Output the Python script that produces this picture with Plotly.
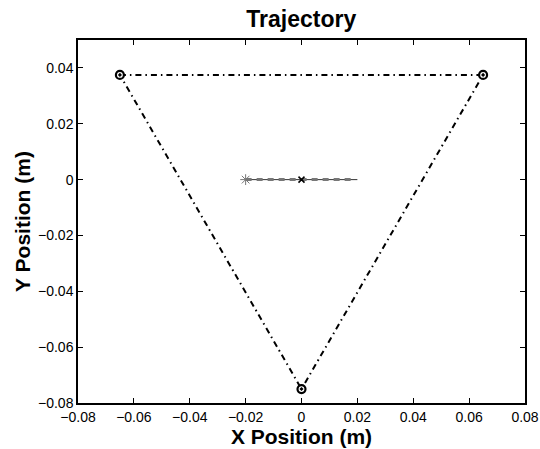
import plotly.graph_objects as go

# Triangle vertices (closed path)
tri_x = [-0.065, 0.065, 0.0, -0.065]
tri_y = [0.0375, 0.0375, -0.075, 0.0375]
vert_x = [-0.065, 0.065, 0.0]
vert_y = [0.0375, 0.0375, -0.075]

# Center path
ref_x = [-0.02, 0.02]
ref_y = [0.0, 0.0]
act_x = [-0.02, 0.018]
act_y = [0.0, 0.0]
start_x = [-0.02]
start_y = [0.0]
mid_x = [0.0]
mid_y = [0.0]

ticks = [-0.08, -0.06, -0.04, -0.02, 0, 0.02, 0.04, 0.06, 0.08]
tick_text = ["\u22120.08", "\u22120.06", "\u22120.04", "\u22120.02", "0", "0.02", "0.04", "0.06", "0.08"]
yticks = [-0.08, -0.06, -0.04, -0.02, 0, 0.02, 0.04]
ytick_text = ["\u22120.08", "\u22120.06", "\u22120.04", "\u22120.02", "0", "0.02", "0.04"]

fig = go.Figure()
fig.add_trace(go.Scatter(x=tri_x, y=tri_y, mode="lines",
                         line=dict(color="black", width=2, dash="6px,4px,1.5px,4px")))
fig.add_trace(go.Scatter(x=vert_x, y=vert_y, mode="markers",
                         marker=dict(symbol="circle-dot", size=8, color="white",
                                     line=dict(color="black", width=2.2))))
fig.add_trace(go.Scatter(x=ref_x, y=ref_y, mode="lines",
                         line=dict(color="#333333", width=1)))
fig.add_trace(go.Scatter(x=act_x, y=act_y, mode="lines",
                         line=dict(color="#777777", width=3, dash="6px,5px")))
fig.add_trace(go.Scatter(x=start_x, y=start_y, mode="markers",
                         marker=dict(symbol="asterisk", size=9, color="#777777",
                                     line=dict(color="#777777", width=1))))
fig.add_trace(go.Scatter(x=mid_x, y=mid_y, mode="markers",
                         marker=dict(symbol="x-thin", size=6, color="black",
                                     line=dict(color="black", width=1.5))))

axis_common = dict(showgrid=False, zeroline=False, showline=True, linecolor="black",
                   linewidth=1.5, mirror="ticks", ticks="inside", ticklen=5,
                   tickcolor="black", tickfont=dict(size=14, color="black"),
                   automargin=False)

fig.update_layout(
    width=540, height=449,
    margin=dict(l=78, r=15, t=40, b=46),
    paper_bgcolor="white", plot_bgcolor="white",
    showlegend=False,
    font=dict(family="Liberation Sans, Arial, sans-serif", color="black"),
    title=dict(text="<b>Trajectory</b>", x=0.558, xanchor="center",
               y=0.958, yanchor="middle", font=dict(size=23, color="black")),
    xaxis=dict(range=[-0.08, 0.08], tickvals=ticks, ticktext=tick_text,
               title=dict(text="<b>X Position (m)</b>", font=dict(size=21), standoff=0),
               **axis_common),
    yaxis=dict(range=[-0.08, 0.05], tickvals=yticks, ticktext=ytick_text,
               title=dict(text="<b>Y Position (m)</b>", font=dict(size=21), standoff=2),
               **axis_common),
)

fig.write_html("out.html")
